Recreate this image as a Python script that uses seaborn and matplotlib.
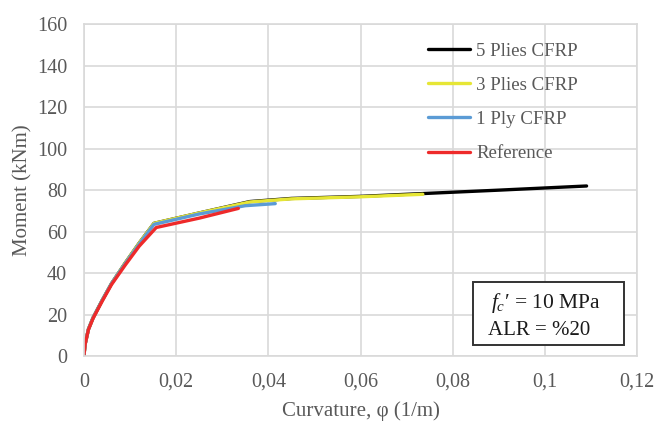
import numpy as np
import pandas as pd
import matplotlib
matplotlib.use("Agg")
import matplotlib.pyplot as plt
from matplotlib.patches import Rectangle
import seaborn as sns

# Data
series_names = ["5 Plies CFRP", "3 Plies CFRP", "1 Ply CFRP", "Reference"]
plies5_x = [0, 0.0003, 0.001, 0.002, 0.004, 0.006, 0.009, 0.012, 0.0152, 0.025, 0.036, 0.045, 0.06, 0.075, 0.09, 0.109]
plies5_y = [0, 6, 13, 18.5, 27, 35, 45, 54.5, 64, 69, 74.5, 76, 77, 78.5, 80, 82]
plies3_x = [0, 0.0003, 0.001, 0.002, 0.004, 0.006, 0.009, 0.012, 0.0152, 0.025, 0.036, 0.045, 0.06, 0.0735]
plies3_y = [0, 6, 13, 18.5, 27, 35, 45, 54.5, 64, 69, 74.3, 75.8, 76.8, 78]
ply1_x = [0, 0.0003, 0.001, 0.002, 0.004, 0.006, 0.009, 0.012, 0.0152, 0.025, 0.035, 0.0415]
ply1_y = [0, 6, 13, 18.5, 27, 35, 44.7, 54, 63.5, 68.5, 72.5, 73.5]
ref_x = [0, 0.0003, 0.001, 0.002, 0.004, 0.006, 0.009, 0.012, 0.0157, 0.025, 0.0335]
ref_y = [0, 6, 12.8, 18.2, 26.6, 34.5, 44, 53, 62, 66.5, 71.2]
x_ticks = [0, 0.02, 0.04, 0.06, 0.08, 0.10, 0.12]
x_ticklabels = ["0", "0,02", "0,04", "0,06", "0,08", "0,1", "0,12"]
y_ticks = [0, 20, 40, 60, 80, 100, 120, 140, 160]

colors = {"5 Plies CFRP": "#000000", "3 Plies CFRP": "#e6e635",
          "1 Ply CFRP": "#5b9bd5", "Reference": "#ee2a2a"}

frames = []
for name, xs, ys in zip(series_names, [plies5_x, plies3_x, ply1_x, ref_x],
                        [plies5_y, plies3_y, ply1_y, ref_y]):
    frames.append(pd.DataFrame({"Curvature": xs, "Moment": ys, "Series": name}))
df = pd.concat(frames, ignore_index=True)

sns.set_theme(style="whitegrid")
plt.rcParams["font.family"] = ["Liberation Serif", "DejaVu Serif"]
plt.rcParams["mathtext.fontset"] = "custom"
plt.rcParams["mathtext.rm"] = "Liberation Serif"
plt.rcParams["mathtext.it"] = "Liberation Serif:italic"

fig = plt.figure(figsize=(6.55, 4.23), dpi=100)
ax = fig.add_axes([0.128, 0.158, 0.845, 0.785])

sns.lineplot(data=df, x="Curvature", y="Moment", hue="Series",
             hue_order=series_names, palette=colors, sort=False,
             estimator=None, linewidth=2.4, ax=ax, legend=True)

ax.set_xlim(0, 0.12)
ax.set_ylim(0, 160)
ax.set_xticks(x_ticks)
ax.set_xticklabels(x_ticklabels)
ax.set_yticks(y_ticks)
text_color = "#595959"
ax.tick_params(axis="both", labelsize=14.5, colors=text_color, length=0)
ax.tick_params(axis="x", pad=12)
ax.tick_params(axis="y", pad=12)
ax.set_xlabel("Curvature, φ (1/m)", fontsize=15, color=text_color, labelpad=7)
ax.set_ylabel("Moment (kNm)", fontsize=15, color=text_color, labelpad=3)
ax.grid(True, color="#d9d9d9", linewidth=1.2)
for s in ax.spines.values():
    s.set_color("#d9d9d9")
    s.set_linewidth(1.2)

handles, labels = ax.get_legend_handles_labels()
leg = ax.legend(handles, labels, loc="upper left", bbox_to_anchor=(0.622, 0.945),
                frameon=False, fontsize=13.6, handlelength=2.24, handletextpad=0.3,
                labelspacing=0.9, borderpad=0, borderaxespad=0)
for t in leg.get_texts():
    t.set_color(text_color)

ax.add_patch(Rectangle((0.703, 0.033), 0.273, 0.19, transform=ax.transAxes,
                       fc="white", ec="#333333", lw=1.4, zorder=5))
box_color = "#1a1a1a"
ax.text(0.736, 0.160, r"$f_c$′ = 10 MPa", transform=ax.transAxes,
        ha="left", va="center", fontsize=15.5, color=box_color, zorder=6)
ax.text(0.73, 0.078, "ALR = %20", transform=ax.transAxes,
        ha="left", va="center", fontsize=15, color=box_color, zorder=6)

fig.savefig("out.png", dpi=100)
